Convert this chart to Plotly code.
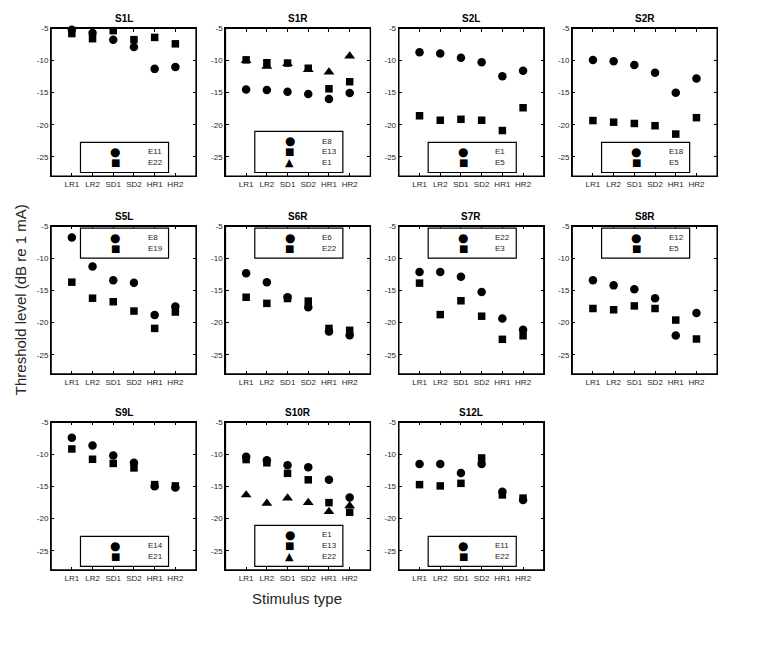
import plotly.graph_objects as go

stimuli = ["LR1", "LR2", "SD1", "SD2", "HR1", "HR2"]
panel_names = ["S1L", "S1R", "S2L", "S2R", "S5L", "S6R", "S7R", "S8R", "S9L", "S10R", "S12L"]

y_tick_vals = [-25, -20, -15, -10, -5]
y_tick_text = ["-25", "-20", "-15", "-10", "-5"]

# series values (dB re 1 mA), in order of stimuli
s1l_e11 = [-5.2, -5.7, -6.75, -7.9, -11.3, -11.0]
s1l_e22 = [-5.8, -6.6, -5.35, -6.75, -6.4, -7.4]
s1r_e8 = [-14.5, -14.6, -14.85, -15.2, -16.0, -15.05]
s1r_e13 = [-9.9, -10.35, -10.4, -11.2, -14.4, -13.3]
s1r_e1 = [-10.0, -10.9, -10.5, -11.4, -11.8, -9.3]
s2l_e1 = [-8.7, -8.9, -9.55, -10.25, -12.45, -11.6]
s2l_e5 = [-18.6, -19.3, -19.15, -19.3, -20.9, -17.35]
s2r_e18 = [-9.9, -10.1, -10.7, -11.9, -15.0, -12.8]
s2r_e5 = [-19.35, -19.6, -19.8, -20.15, -21.45, -18.9]
s5l_e8 = [-6.75, -11.25, -13.4, -13.8, -18.8, -17.5]
s5l_e19 = [-13.7, -16.2, -16.75, -18.2, -20.9, -18.35]
s6r_e6 = [-12.3, -13.7, -16.05, -17.6, -21.4, -21.95]
s6r_e22 = [-16.05, -17.0, -16.25, -16.65, -20.9, -21.2]
s7r_e22 = [-12.1, -12.1, -12.85, -15.25, -19.35, -21.1]
s7r_e3 = [-13.85, -18.75, -16.6, -19.0, -22.6, -22.05]
s8r_e12 = [-13.4, -14.2, -14.8, -16.2, -22.0, -18.5]
s8r_e5 = [-17.8, -18.0, -17.4, -17.8, -19.6, -22.55]
s9l_e14 = [-7.4, -8.6, -10.15, -11.3, -14.95, -15.15]
s9l_e21 = [-9.15, -10.75, -11.4, -12.1, -14.7, -14.9]
s10r_e1 = [-10.35, -10.9, -11.7, -12.0, -13.95, -16.7]
s10r_e13 = [-10.8, -11.3, -12.95, -13.95, -17.5, -19.0]
s10r_e22 = [-16.3, -17.6, -16.8, -17.5, -18.9, -18.0]
s12l_e11 = [-11.5, -11.5, -12.9, -11.5, -15.8, -17.1]
s12l_e22 = [-14.7, -14.9, -14.5, -10.55, -16.3, -16.8]

panel_series = [
    [("E11", s1l_e11), ("E22", s1l_e22)],
    [("E8", s1r_e8), ("E13", s1r_e13), ("E1", s1r_e1)],
    [("E1", s2l_e1), ("E5", s2l_e5)],
    [("E18", s2r_e18), ("E5", s2r_e5)],
    [("E8", s5l_e8), ("E19", s5l_e19)],
    [("E6", s6r_e6), ("E22", s6r_e22)],
    [("E22", s7r_e22), ("E3", s7r_e3)],
    [("E12", s8r_e12), ("E5", s8r_e5)],
    [("E14", s9l_e14), ("E21", s9l_e21)],
    [("E1", s10r_e1), ("E13", s10r_e13), ("E22", s10r_e22)],
    [("E11", s12l_e11), ("E22", s12l_e22)],
]
legend_top = [False, False, False, False, True, True, True, True, False, False, False]

W, H = 774, 656
K = 1.09  # layout below is given in a 1.09x larger design grid
FONT = "Liberation Sans, Arial, Helvetica, sans-serif"
col_left = [47, 237, 426, 615]
plot_w = 158
row_top = [18, 235, 450]
plot_h = 162

symbols = ["circle", "square", "triangle-up"]
sizes = [8.5, 7.5, 9.5]
glyphs = ["\u25CF", "\u25A0", "\u25B2"]
glyph_sizes = [12, 10, 11]


def px_x(p):
    return (p / K) / W


def px_y(p):
    return 1 - (p / K) / H


fig = go.Figure()
shapes = []
annotations = []
axes = {}

for i, name in enumerate(panel_names):
    r, c = divmod(i, 4)
    left, top = col_left[c], row_top[r]
    x0, x1 = px_x(left), px_x(left + plot_w)
    ytop, ybot = px_y(top), px_y(top + plot_h)
    sfx = "" if i == 0 else str(i + 1)
    for k, (lab, vals) in enumerate(panel_series[i]):
        fig.add_trace(go.Scatter(
            x=stimuli, y=vals, mode="markers", name=lab,
            marker=dict(symbol=symbols[k], size=sizes[k], color="black"),
            xaxis="x" + sfx, yaxis="y" + sfx, cliponaxis=False,
        ))
    axes["xaxis" + sfx] = dict(domain=[x0, x1], anchor="y" + sfx, type="category",
                               range=[-1, 6],
                               showline=True, linecolor="black", linewidth=1.3, mirror="ticks",
                               ticks="inside", ticklen=3, tickwidth=1, tickcolor="black",
                               showgrid=False,
                               tickfont=dict(family=FONT, size=8, color="#262626"))
    axes["yaxis" + sfx] = dict(domain=[ybot, ytop], anchor="x" + sfx, range=[-28, -5],
                               tickvals=y_tick_vals, ticktext=y_tick_text,
                               showline=True, linecolor="black", linewidth=1.3, mirror="ticks",
                               ticks="inside", ticklen=3, tickwidth=1, tickcolor="black",
                               showgrid=False, zeroline=False,
                               tickfont=dict(family=FONT, size=8, color="#262626"))
    # plot frame
    shapes.append(dict(type="rect", xref="paper", yref="paper",
                       x0=x0, x1=x1, y0=ybot, y1=ytop,
                       line=dict(color="black", width=1.4)))
    # legend box (drawn manually, MATLAB style)
    n = len(panel_series[i])
    lw = 96
    lh = 9 + 12 * n
    lx0 = left + plot_w / 2 - lw / 2 + 1
    if legend_top[i]:
        ly0 = top + 2
    else:
        ly0 = top + plot_h - 4 - lh
    shapes.append(dict(type="rect", xref="paper", yref="paper",
                       x0=px_x(lx0), x1=px_x(lx0 + lw), y0=px_y(ly0 + lh), y1=px_y(ly0),
                       line=dict(color="black", width=1.2), fillcolor="white"))
    for k, (lab, vals) in enumerate(panel_series[i]):
        cy = ly0 + 10.5 + 12 * k
        annotations.append(dict(
            text=glyphs[k], x=px_x(lx0 + 38), y=px_y(cy), xref="paper", yref="paper",
            xanchor="center", yanchor="middle", showarrow=False,
            font=dict(family="DejaVu Sans", size=glyph_sizes[k], color="black")))
        annotations.append(dict(
            text=lab, x=px_x(lx0 + 71), y=px_y(cy), xref="paper", yref="paper",
            xanchor="left", yanchor="middle", showarrow=False,
            font=dict(family=FONT, size=8, color="#262626")))
    annotations.append(dict(
        text="<b>" + name + "</b>", x=(x0 + x1) / 2, y=ytop + 2 / H, xref="paper", yref="paper",
        xanchor="center", yanchor="bottom", showarrow=False,
        font=dict(family=FONT, size=10, color="black")))

annotations.append(dict(
    text="Stimulus type", x=px_x((col_left[0] + col_left[2] + plot_w) / 2), y=px_y(643),
    xref="paper", yref="paper", xanchor="center", yanchor="middle", showarrow=False,
    font=dict(family=FONT, size=15, color="#262626")))
annotations.append(dict(
    text="Threshold level (dB re 1 mA)", x=px_x(13), y=px_y(315), textangle=-90,
    xref="paper", yref="paper", xanchor="center", yanchor="middle", showarrow=False,
    font=dict(family=FONT, size=15, color="#262626")))

fig.update_layout(
    width=W, height=H,
    margin=dict(l=0, r=0, t=0, b=0),
    paper_bgcolor="white", plot_bgcolor="white",
    showlegend=False,
    shapes=shapes, annotations=annotations,
    **axes,
)
fig.write_html("out.html")
